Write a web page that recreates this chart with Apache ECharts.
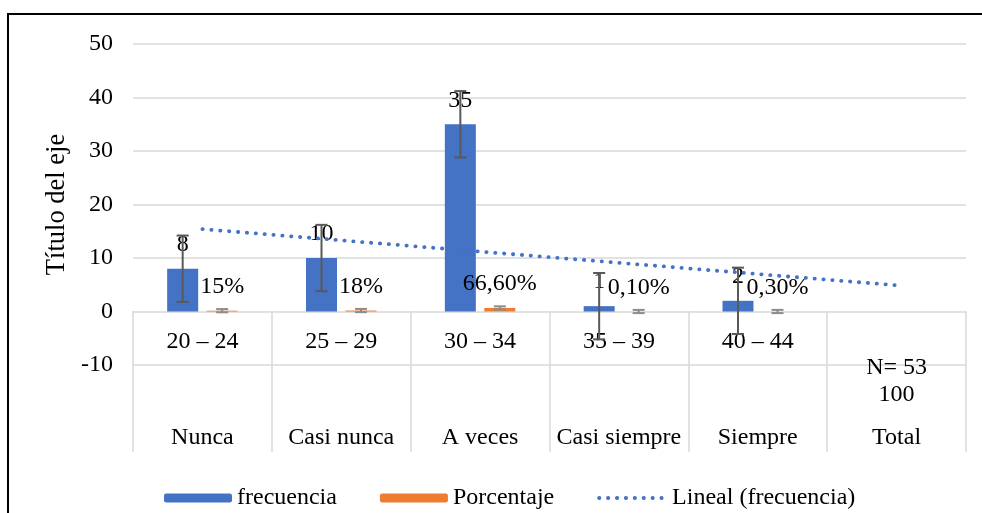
<!DOCTYPE html>
<html>
<head>
<meta charset="utf-8">
<script src="https://cdn.jsdelivr.net/npm/echarts@6/dist/echarts.min.js"></script>
<style>
  html, body { margin: 0; padding: 0; background: #fff; }
  #chart { width: 982px; height: 513px; }
</style>
</head>
<body>
<div id="chart"></div>
<script>
// Category axis, three label levels
const ageRanges = ['20 – 24', '25 – 29', '30 – 34', '35 – 39', '40 – 44', ''];
const totals = ['', '', '', '', '', 'N= 53\n100'];
const answers = ['Nunca', 'Casi nunca', 'A veces', 'Casi siempre', 'Siempre', 'Total'];

// Series values
const frecuencia = [8, 10, 35, 1, 2, null];
const porcentaje = [0.15, 0.18, 0.666, 0.001, 0.003, null];
const linealFrecuencia = [15.4, 13.3, 11.2, 9.1, 7.0, 4.9];

// Error bar half-lengths
const errFrecuencia = [6.2, 6.2, 6.2, 6.2, 6.2];
const errPorcentaje = [0.3, 0.3, 0.3, 0.3, 0.3];

// Value axis ticks
const yTicks = [-10, 0, 10, 20, 30, 40, 50];

const FONT = 'Liberation Serif';
const BLUE = '#4472C4';
const ORANGE = '#ED7D31';
const GRID_COLOR = '#D9D9D9';
const ERR_COLOR = '#595959';
const BAR_W = 31;
const BAR_GAP = 8.5;
const OFFSET = (BAR_W + BAR_GAP) / 2;
const DOTTED = { color: BLUE, width: 3.8, type: [0.3, 8.6], cap: 'round' };

function pctLabel(v) {
  const p = v * 100;
  const rounded = Math.round(p * 100) / 100;
  if (Math.abs(rounded - Math.round(rounded)) < 1e-9) return Math.round(rounded) + '%';
  return rounded.toFixed(2).replace('.', ',') + '%';
}

function errorBarSeries(values, errs, offset, color) {
  return {
    type: 'custom',
    xAxisIndex: 0,
    yAxisIndex: 0,
    z: 5,
    silent: true,
    data: values.slice(0, errs.length).map((v, i) => [i, v, errs[i]]),
    encode: { x: 0, y: 1 },
    renderItem: function (params, api) {
      const idx = api.value(0);
      const v = api.value(1);
      const e = api.value(2);
      const p = api.coord([idx, v]);
      const x = p[0] + offset;
      const yTop = api.coord([idx, v + e])[1];
      const yBot = api.coord([idx, v - e])[1];
      const half = 6;
      const style = { stroke: color, lineWidth: 2 };
      return {
        type: 'group',
        children: [
          { type: 'line', shape: { x1: x, y1: yTop, x2: x, y2: yBot }, style: style },
          { type: 'line', shape: { x1: x - half, y1: yTop, x2: x + half, y2: yTop }, style: style },
          { type: 'line', shape: { x1: x - half, y1: yBot, x2: x + half, y2: yBot }, style: style }
        ]
      };
    }
  };
}

const chart = echarts.init(document.getElementById('chart'), null, { renderer: 'canvas' });

const textBase = { fontFamily: FONT, fontSize: 24, color: '#000' };
const hiddenLine = { show: false };

// Label table under the plot: vertical separators + one axis per label level
function labelAxis(gridIndex, data, margin, extra) {
  return Object.assign({
    type: 'category',
    gridIndex: gridIndex,
    data: data,
    axisLine: hiddenLine,
    axisTick: hiddenLine,
    splitLine: hiddenLine,
    axisLabel: Object.assign({ inside: true, margin: margin, interval: 0 }, textBase)
  }, extra || {});
}

chart.setOption({
  animation: false,
  backgroundColor: '#fff',
  textStyle: { fontFamily: FONT },
  graphic: [{
    type: 'rect',
    shape: { x: 8, y: 14, width: 1000, height: 600 },
    style: { fill: 'none', stroke: '#000', lineWidth: 2 },
    silent: true,
    z: 100
  }],
  legend: {
    data: [
      { name: 'frecuencia' },
      { name: 'Porcentaje' },
      { name: 'Lineal (frecuencia)', itemStyle: { opacity: 0 }, lineStyle: DOTTED }
    ],
    left: 164,
    top: 486,
    padding: 0,
    itemWidth: 68,
    itemHeight: 9,
    itemGap: 43,
    textStyle: textBase
  },
  grid: [
    { left: 133, right: 16, top: 44, height: 321 },
    { left: 133, right: 16, top: 311, height: 141 },
    { left: 133, right: 16, top: 365, height: 43 },
    { left: 133, right: 16, top: 311, height: 54 }
  ],
  xAxis: [
    {
      type: 'category',
      gridIndex: 0,
      data: ageRanges,
      axisLine: hiddenLine,
      axisTick: hiddenLine,
      axisLabel: hiddenLine,
      splitLine: hiddenLine
    },
    labelAxis(1, answers, 2, {
      splitLine: { show: true, interval: 0, lineStyle: { color: GRID_COLOR, width: 1.5 } }
    }),
    labelAxis(2, totals, 0, {
      axisLabel: Object.assign({ inside: true, margin: 0, interval: 0, lineHeight: 27 }, textBase)
    }),
    labelAxis(3, ageRanges, 11)
  ],
  yAxis: [
    {
      type: 'value',
      gridIndex: 0,
      min: yTicks[0],
      max: yTicks[yTicks.length - 1],
      interval: 10,
      name: 'Título del eje',
      nameLocation: 'middle',
      nameGap: 57,
      nameTextStyle: Object.assign({}, textBase, { fontSize: 26.5 }),
      axisLine: hiddenLine,
      axisTick: hiddenLine,
      axisLabel: Object.assign({ margin: 20 }, textBase),
      splitLine: { lineStyle: { color: GRID_COLOR, width: 1.5 } }
    },
    { type: 'value', gridIndex: 1, show: false },
    { type: 'value', gridIndex: 2, show: false },
    { type: 'value', gridIndex: 3, show: false }
  ],
  series: [
    {
      name: 'frecuencia',
      type: 'bar',
      data: frecuencia,
      barWidth: BAR_W,
      barGap: (BAR_GAP / BAR_W * 100) + '%',
      itemStyle: { color: BLUE },
      label: Object.assign({ show: true, position: 'top', distance: 12 }, textBase)
    },
    {
      name: 'Porcentaje',
      type: 'bar',
      data: porcentaje,
      barWidth: BAR_W,
      itemStyle: { color: ORANGE },
      label: Object.assign({
        show: true, position: 'top', distance: 12,
        formatter: function (p) { return pctLabel(p.value); }
      }, textBase)
    },
    {
      name: 'Lineal (frecuencia)',
      type: 'line',
      data: linealFrecuencia,
      symbol: 'none',
      z: 4,
      lineStyle: DOTTED,
      itemStyle: { color: BLUE }
    },
    errorBarSeries(frecuencia, errFrecuencia, -OFFSET, ERR_COLOR),
    errorBarSeries(porcentaje, errPorcentaje, OFFSET, '#8C8C8C')
  ]
});
</script>
</body>
</html>
